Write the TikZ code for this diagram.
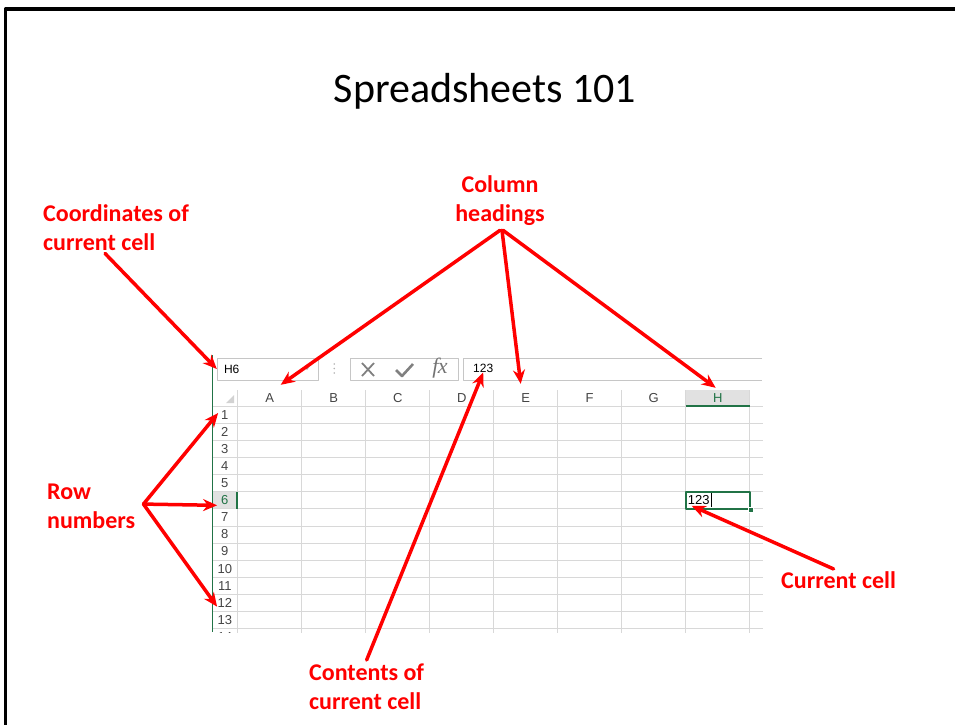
\documentclass[tikz,border=0pt]{standalone}
\usepackage{fontspec}
\setmainfont{Carlito}
\newfontfamily\sheetfont{Liberation Sans}
\newfontfamily\fxfont{Liberation Serif}
\usetikzlibrary{arrows.meta}
\definecolor{gridgray}{RGB}{216,216,216}
\definecolor{headgray}{RGB}{225,225,225}
\definecolor{boxgray}{RGB}{198,198,198}
\definecolor{textgray}{RGB}{68,68,68}
\definecolor{xlgreen}{RGB}{33,115,70}
\begin{document}
\begin{tikzpicture}[x=1pt,y=-1pt,line join=round,>={Stealth[length=14pt,width=12pt]}]
		\def\colw{64}
		\def\rowh{17.06}
		\def\xa{237.7}
		\def\ya{406.5}
		\tikzset{note/.style={font=\fontsize{24}{29}\selectfont\bfseries,text=red,inner sep=0pt},
			pointer/.style={->,draw=red,line width=3.5pt,line cap=round},
			sheettext/.style={font=\sheetfont\fontsize{13}{13}\selectfont,text=textgray,inner sep=0pt},
			headcell/.style={sheettext,minimum width=\colw,minimum height=16},
			rowcell/.style={sheettext,minimum width=25,minimum height=\rowh},
			grid/.style={draw=gridgray,line width=0.8pt}}
		\useasboundingbox (0,0) rectangle (955,724);
		\draw[line width=3.6pt] (5.5,740) -- (5.5,9) -- (970,9);
		\node[font=\fontsize{42}{46}\selectfont] (title) at (485,91.5) {Spreadsheets 101};
		% formula bar
		\node[draw=boxgray,minimum width=101,minimum height=22,inner sep=0pt] (namebox) at (267.5,369) {};
		\node[sheettext,text=black,font=\sheetfont\fontsize{12}{12}\selectfont,anchor=west] (cellref) at ([xshift=7pt]namebox.west) {H6};
		\fill[gray!70] (304,366) -- (310,366) -- (307,370) -- cycle;
		\foreach \y in {364,368.5,373} \fill[gray!60] (334.3,\y) circle (0.9);
		\draw[boxgray] (350,358) rectangle (458,380);
		\draw[gray,line width=1.8pt] (362,363) -- (374,376) (374,363) -- (362,376);
		\draw[gray,line width=2.6pt] (396,370) -- (402,376) -- (413,364);
		\node[font=\fxfont\itshape\fontsize{22}{22}\selectfont,text=gray!90!black] (fx) at (440,368) {f\kern-0.5pt x};
		\draw[boxgray] (762,358) -- (463,358) -- (463,380) -- (762,380);
		\node[sheettext,text=black,font=\sheetfont\fontsize{12}{12}\selectfont,anchor=west] (fval) at (473,368) {123};
		% grid
		\begin{scope}
		\clip (211,388) rectangle (763,632);
		\fill[headgray] (\xa+7*\colw,390) rectangle (\xa+8*\colw,\ya);
		\fill[headgray] (212,\ya+5*\rowh) rectangle (\xa,\ya+6*\rowh);
		\foreach \k in {0,...,14} \draw[grid] (212,\ya+\k*\rowh) -- (763,\ya+\k*\rowh);
		\foreach \k in {0,...,8} \draw[grid] (\xa+\k*\colw,390) -- (\xa+\k*\colw,640);
		\fill[gray!35] (234,395) -- (234,403) -- (226,403) -- cycle;
		\foreach \c [count=\i from 0] in {A,...,G}
			\node[headcell] (col\c) at (\xa+\i*\colw+\colw/2,398.5) {\c};
		\node[headcell,text=xlgreen] (colH) at (\xa+7*\colw+\colw/2,398.5) {H};
		\foreach \r in {1,...,5,7,8,...,14}
			\node[rowcell] (row\r) at (224.8,\ya+\r*\rowh-\rowh/2) {\r};
		\node[rowcell,text=xlgreen] (row6) at (224.8,\ya+5.5*\rowh) {6};
		\fill[xlgreen] (\xa+7*\colw,\ya-1.8) rectangle (\xa+8*\colw,\ya);
		\fill[xlgreen] (\xa-1.8,\ya+5*\rowh) rectangle (\xa,\ya+6*\rowh);
		\end{scope}
		\draw[xlgreen,line width=1pt] (212,355) -- (212,632);
		\node[draw=xlgreen,line width=2pt,minimum width=\colw,minimum height=\rowh,inner sep=0pt] (cell) at (\xa+7.5*\colw,\ya+5.5*\rowh) {};
		\node[sheettext,text=black,anchor=west] (cellval) at ([xshift=3pt]cell.west) {123};
		\draw[line width=0.7pt] ([shift={(2,-7)}]cellval.east) -- ++(0,14);
		\filldraw[xlgreen,draw=white,line width=0.6pt] ([shift={(-2.5,-2.5)}]cell.south east) rectangle ++(5,5);
		% callouts
		\node[note,align=left,anchor=north west] (coordnote) at (43,204) {Coordinates of\\current cell};
		\node[note,align=center,anchor=north] (colnote) at (500,175) {Column\\headings};
		\node[note,align=left,anchor=north west] (rownote) at (47,484) {Row\\numbers};
		\node[note,anchor=base west] (curnote) at (781,588) {Current cell};
		\node[note,align=left,anchor=north west] (contnote) at (309,664) {Contents of\\current cell};
		\draw[pointer] ([shift={(62,3)}]coordnote.south west) -- (namebox.west);
		\draw[pointer] ([shift={(0,5)}]colnote.south) -- ([shift={(11,-5.5)}]colA.north);
		\draw[pointer] ([shift={(2,5)}]colnote.south) -- ([shift={(-5,-6.5)}]colE.north);
		\draw[pointer] ([shift={(3,5)}]colnote.south) -- ([shift={(-2,-2.5)}]colH.north);
		\draw[pointer] ([shift={(8,-2.5)}]rownote.east) -- ([shift={(6,-2)}]row1.west);
		\draw[pointer] ([shift={(8,-2.5)}]rownote.east) -- ([shift={(5,5)}]row6.west);
		\draw[pointer] ([shift={(8,-2.5)}]rownote.east) -- ([shift={(5,4)}]row12.west);
		\draw[pointer] ([shift={(-5,-2)}]curnote.north) -- ([shift={(7,-4)}]cell.south west);
		\draw[pointer] ([shift={(0,-4)}]contnote.north) -- (fval.south);
\end{tikzpicture}
\end{document}
